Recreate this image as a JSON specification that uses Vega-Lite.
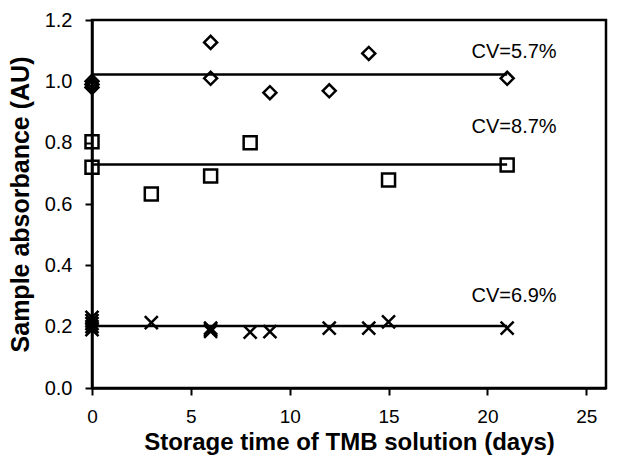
{
  "$schema": "https://vega.github.io/schema/vega-lite/v6.json",
  "autosize": "none",
  "width": 514,
  "height": 368,
  "padding": {"left": 92, "top": 20, "right": 15, "bottom": 82},
  "background": "white",
  "config": {
    "view": {"stroke": "black", "strokeWidth": 2.5},
    "font": "Liberation Sans",
    "axis": {
      "grid": false,
      "labelFlush": false,
      "domainColor": "black",
      "domainWidth": 2.5,
      "tickColor": "black",
      "tickWidth": 2,
      "tickSize": 7,
      "labelColor": "black",
      "labelFont": "Liberation Sans",
      "labelFontSize": 19,
      "titleColor": "black",
      "titleFont": "Liberation Sans",
      "titleFontWeight": "bold"
    }
  },
  "datasets": {
    "points": [
      {"series": "A", "day": 0, "absorbance": 0.99},
      {"series": "A", "day": 0, "absorbance": 1.0},
      {"series": "A", "day": 0, "absorbance": 0.98},
      {"series": "A", "day": 6, "absorbance": 1.127},
      {"series": "A", "day": 6, "absorbance": 1.01},
      {"series": "A", "day": 9, "absorbance": 0.963},
      {"series": "A", "day": 12, "absorbance": 0.969},
      {"series": "A", "day": 14, "absorbance": 1.091},
      {"series": "A", "day": 21, "absorbance": 1.01},
      {"series": "B", "day": 0, "absorbance": 0.803},
      {"series": "B", "day": 0, "absorbance": 0.72},
      {"series": "B", "day": 3, "absorbance": 0.633},
      {"series": "B", "day": 6, "absorbance": 0.691},
      {"series": "B", "day": 8, "absorbance": 0.8},
      {"series": "B", "day": 15, "absorbance": 0.678},
      {"series": "B", "day": 21, "absorbance": 0.727},
      {"series": "C", "day": 0, "absorbance": 0.23},
      {"series": "C", "day": 0, "absorbance": 0.22},
      {"series": "C", "day": 0, "absorbance": 0.21},
      {"series": "C", "day": 0, "absorbance": 0.2},
      {"series": "C", "day": 0, "absorbance": 0.19},
      {"series": "C", "day": 3, "absorbance": 0.213},
      {"series": "C", "day": 6, "absorbance": 0.19},
      {"series": "C", "day": 6, "absorbance": 0.185},
      {"series": "C", "day": 6, "absorbance": 0.195},
      {"series": "C", "day": 8, "absorbance": 0.182},
      {"series": "C", "day": 9, "absorbance": 0.184},
      {"series": "C", "day": 12, "absorbance": 0.195},
      {"series": "C", "day": 14, "absorbance": 0.195},
      {"series": "C", "day": 15, "absorbance": 0.216},
      {"series": "C", "day": 21, "absorbance": 0.195}
    ],
    "means": [
      {"series": "A", "start": 0, "end": 21, "mean": 1.022},
      {"series": "B", "start": 0, "end": 21, "mean": 0.729},
      {"series": "C", "start": 0, "end": 21, "mean": 0.202}
    ],
    "labels": [
      {"label": "CV=5.7%", "day": 21.35, "value": 1.097},
      {"label": "CV=8.7%", "day": 21.35, "value": 0.852},
      {"label": "CV=6.9%", "day": 21.35, "value": 0.3}
    ]
  },
  "layer": [
    {
      "data": {"name": "means"},
      "mark": {"type": "rule", "color": "black", "strokeWidth": 2.5},
      "encoding": {
        "x": {"field": "start", "type": "quantitative", "scale": {"domain": [0, 25]},
          "axis": {"values": [0, 5, 10, 15, 20, 25], "title": "Storage time of TMB solution (days)", "titleFontSize": 24, "labelPadding": 12, "titlePadding": 4}},
        "x2": {"field": "end"},
        "y": {"field": "mean", "type": "quantitative", "scale": {"domain": [0, 1.2]},
          "axis": {"values": [0, 0.2, 0.4, 0.6, 0.8, 1.0, 1.2], "format": ".1f", "title": "Sample absorbance (AU)", "titleFontSize": 25, "labelFontSize": 20, "labelPadding": 13, "titlePadding": 11}}
      }
    },
    {
      "data": {"name": "points"},
      "mark": {"type": "point", "filled": false, "stroke": "black", "strokeWidth": 2.5, "size": 169, "opacity": 1},
      "encoding": {
        "x": {"field": "day", "type": "quantitative"},
        "y": {"field": "absorbance", "type": "quantitative"},
        "shape": {"field": "series", "type": "nominal", "legend": null,
          "scale": {"domain": ["A", "B", "C"], "range": ["diamond", "square", "M-1,-1L1,1M1,-1L-1,1"]}}
      }
    },
    {
      "data": {"name": "labels"},
      "mark": {"type": "text", "font": "Liberation Sans", "fontSize": 20, "color": "black", "align": "center", "baseline": "middle"},
      "encoding": {
        "x": {"field": "day", "type": "quantitative"},
        "y": {"field": "value", "type": "quantitative"},
        "text": {"field": "label"}
      }
    }
  ]
}
